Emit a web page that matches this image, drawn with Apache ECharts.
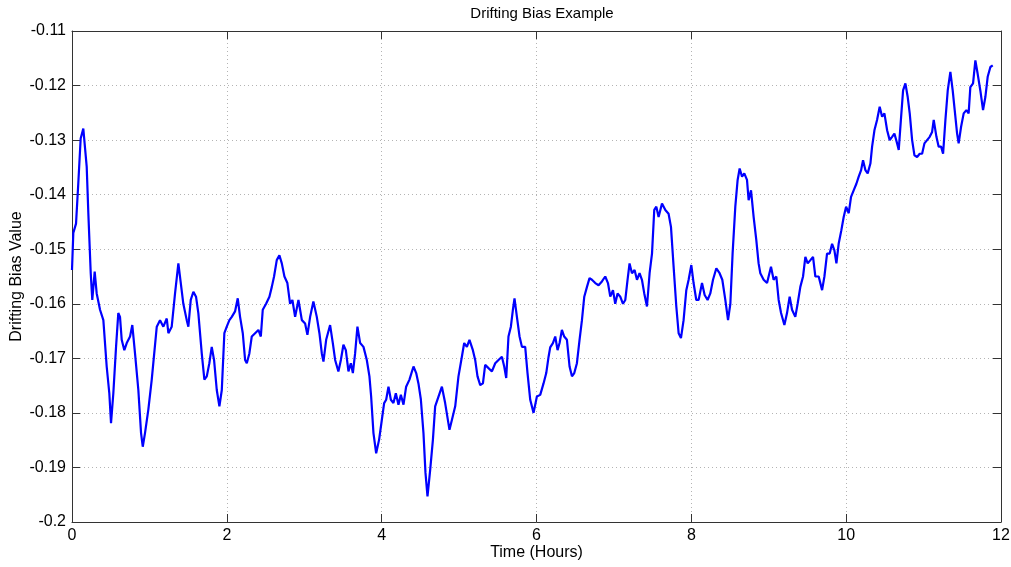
<!DOCTYPE html>
<html>
<head>
<meta charset="utf-8">
<script src="https://cdn.jsdelivr.net/npm/echarts@6/dist/echarts.min.js"></script>
<style>
  html, body { margin: 0; padding: 0; background: #fff; }
  #chart { width: 1011px; height: 567px; }
</style>
</head>
<body>
<div id="chart"></div>
<script>
// time in hours
var times = [
  0, 0.017, 0.052, 0.081, 0.112, 0.146, 0.190, 0.211, 0.242, 0.262,
  0.293, 0.319, 0.362, 0.405, 0.448, 0.482, 0.504, 0.534, 0.569, 0.598,
  0.620, 0.642, 0.676, 0.707, 0.750, 0.779, 0.814, 0.857, 0.892, 0.914,
  0.943, 0.986, 1.030, 1.095, 1.137, 1.180, 1.224, 1.245, 1.288, 1.331,
  1.374, 1.396, 1.438, 1.482, 1.503, 1.534, 1.568, 1.602, 1.632, 1.676,
  1.710, 1.741, 1.774, 1.805, 1.835, 1.870, 1.904, 1.935, 1.968, 1.999,
  2.033, 2.064, 2.106, 2.141, 2.171, 2.206, 2.236, 2.258, 2.291, 2.322,
  2.365, 2.408, 2.439, 2.464, 2.507, 2.550, 2.581, 2.610, 2.645, 2.679,
  2.710, 2.744, 2.782, 2.817, 2.847, 2.882, 2.925, 2.969, 3.011, 3.041,
  3.076, 3.118, 3.162, 3.196, 3.227, 3.248, 3.283, 3.334, 3.369, 3.399,
  3.441, 3.473, 3.506, 3.537, 3.571, 3.602, 3.628, 3.657, 3.687, 3.722,
  3.765, 3.808, 3.842, 3.864, 3.894, 3.929, 3.967, 4.002, 4.032, 4.058,
  4.088, 4.119, 4.152, 4.183, 4.217, 4.248, 4.282, 4.316, 4.359, 4.411,
  4.446, 4.475, 4.506, 4.540, 4.566, 4.592, 4.627, 4.662, 4.691, 4.734,
  4.778, 4.820, 4.876, 4.907, 4.950, 4.992, 5.036, 5.066, 5.101, 5.134,
  5.178, 5.208, 5.238, 5.273, 5.308, 5.337, 5.380, 5.424, 5.467, 5.509,
  5.553, 5.583, 5.609, 5.638, 5.669, 5.695, 5.716, 5.747, 5.781, 5.812,
  5.854, 5.884, 5.919, 5.962, 6.005, 6.048, 6.091, 6.126, 6.156, 6.177,
  6.212, 6.242, 6.272, 6.298, 6.328, 6.358, 6.393, 6.427, 6.458, 6.488,
  6.522, 6.556, 6.587, 6.617, 6.652, 6.685, 6.716, 6.759, 6.802, 6.845,
  6.888, 6.923, 6.953, 6.988, 7.017, 7.047, 7.082, 7.117, 7.147, 7.176,
  7.202, 7.233, 7.267, 7.298, 7.331, 7.362, 7.392, 7.427, 7.461, 7.492,
  7.521, 7.548, 7.577, 7.621, 7.664, 7.706, 7.737, 7.771, 7.806, 7.836,
  7.866, 7.900, 7.935, 7.965, 8.000, 8.029, 8.064, 8.094, 8.138, 8.172,
  8.210, 8.245, 8.280, 8.323, 8.365, 8.400, 8.439, 8.474, 8.504, 8.533,
  8.568, 8.598, 8.624, 8.655, 8.684, 8.719, 8.740, 8.771, 8.805, 8.839,
  8.869, 8.891, 8.934, 8.978, 9.029, 9.063, 9.098, 9.128, 9.159, 9.202,
  9.236, 9.270, 9.301, 9.343, 9.373, 9.408, 9.443, 9.473, 9.503, 9.538,
  9.572, 9.602, 9.645, 9.689, 9.719, 9.753, 9.787, 9.818, 9.848, 9.874,
  9.903, 9.938, 9.968, 9.999, 10.033, 10.063, 10.097, 10.132, 10.162, 10.193,
  10.218, 10.248, 10.278, 10.313, 10.335, 10.365, 10.399, 10.433, 10.464, 10.494,
  10.529, 10.562, 10.593, 10.623, 10.658, 10.679, 10.710, 10.735, 10.765, 10.795,
  10.821, 10.852, 10.882, 10.916, 10.950, 10.981, 11.011, 11.045, 11.079, 11.110,
  11.131, 11.166, 11.195, 11.226, 11.252, 11.282, 11.312, 11.346, 11.376, 11.402,
  11.433, 11.453, 11.484, 11.518, 11.553, 11.582, 11.604, 11.639, 11.669, 11.698,
  11.733, 11.768, 11.798, 11.828, 11.863, 11.893
];

// drifting bias value at each time
var bias = [
  -0.1538, -0.1470, -0.1453, -0.1380, -0.1297, -0.1279, -0.1349, -0.1434, -0.1544, -0.1593,
  -0.1541, -0.1581, -0.1611, -0.1630, -0.1715, -0.1764, -0.1819, -0.1764, -0.1679, -0.1617,
  -0.1624, -0.1666, -0.1685, -0.1672, -0.1660, -0.1639, -0.1691, -0.1758, -0.1837, -0.1862,
  -0.1837, -0.1794, -0.1739, -0.1642, -0.1630, -0.1642, -0.1627, -0.1654, -0.1642, -0.1581,
  -0.1526, -0.1523, -0.1600, -0.1630, -0.1642, -0.1593, -0.1578, -0.1587, -0.1617, -0.1691,
  -0.1739, -0.1733, -0.1709, -0.1679, -0.1703, -0.1758, -0.1788, -0.1758, -0.1654, -0.1642,
  -0.1630, -0.1624, -0.1614, -0.1590, -0.1624, -0.1654, -0.1703, -0.1709, -0.1691, -0.1660,
  -0.1654, -0.1648, -0.1660, -0.1611, -0.1600, -0.1587, -0.1569, -0.1550, -0.1520, -0.1511,
  -0.1526, -0.1550, -0.1562, -0.1600, -0.1593, -0.1624, -0.1593, -0.1630, -0.1636, -0.1657,
  -0.1624, -0.1596, -0.1624, -0.1654, -0.1691, -0.1706, -0.1666, -0.1639, -0.1672, -0.1703,
  -0.1724, -0.1703, -0.1675, -0.1685, -0.1724, -0.1709, -0.1727, -0.1691, -0.1642, -0.1672,
  -0.1679, -0.1703, -0.1733, -0.1770, -0.1837, -0.1874, -0.1849, -0.1813, -0.1782, -0.1776,
  -0.1752, -0.1776, -0.1782, -0.1764, -0.1785, -0.1767, -0.1785, -0.1752, -0.1739, -0.1715,
  -0.1727, -0.1746, -0.1775, -0.1837, -0.1910, -0.1953, -0.1904, -0.1849, -0.1788, -0.1770,
  -0.1752, -0.1782, -0.1831, -0.1813, -0.1788, -0.1733, -0.1697, -0.1672, -0.1679, -0.1666,
  -0.1685, -0.1703, -0.1733, -0.1749, -0.1746, -0.1712, -0.1718, -0.1724, -0.1709, -0.1703,
  -0.1697, -0.1715, -0.1736, -0.1660, -0.1642, -0.1611, -0.1590, -0.1624, -0.1660, -0.1679,
  -0.1679, -0.1727, -0.1776, -0.1800, -0.1770, -0.1767, -0.1746, -0.1727, -0.1697, -0.1680,
  -0.1672, -0.1660, -0.1685, -0.1672, -0.1648, -0.1660, -0.1666, -0.1715, -0.1733, -0.1727,
  -0.1709, -0.1666, -0.1630, -0.1587, -0.1569, -0.1553, -0.1556, -0.1562, -0.1566, -0.1559,
  -0.1550, -0.1562, -0.1587, -0.1575, -0.1600, -0.1581, -0.1587, -0.1600, -0.1593, -0.1556,
  -0.1526, -0.1544, -0.1538, -0.1556, -0.1544, -0.1556, -0.1581, -0.1605, -0.1544, -0.1508,
  -0.1428, -0.1422, -0.1441, -0.1416, -0.1428, -0.1435, -0.1459, -0.1532, -0.1605, -0.1654,
  -0.1663, -0.1630, -0.1575, -0.1556, -0.1529, -0.1562, -0.1593, -0.1593, -0.1562, -0.1584,
  -0.1593, -0.1581, -0.1556, -0.1535, -0.1544, -0.1556, -0.1593, -0.1630, -0.1600, -0.1508,
  -0.1422, -0.1373, -0.1352, -0.1367, -0.1361, -0.1373, -0.1410, -0.1392, -0.1441, -0.1483,
  -0.1526, -0.1544, -0.1556, -0.1562, -0.1532, -0.1556, -0.1550, -0.1593, -0.1617, -0.1639,
  -0.1617, -0.1587, -0.1611, -0.1624, -0.1600, -0.1569, -0.1550, -0.1514, -0.1526, -0.1520,
  -0.1514, -0.1550, -0.1550, -0.1575, -0.1550, -0.1508, -0.1508, -0.1490, -0.1502, -0.1526,
  -0.1490, -0.1465, -0.1441, -0.1422, -0.1434, -0.1404, -0.1392, -0.1380, -0.1367, -0.1355,
  -0.1337, -0.1355, -0.1361, -0.1343, -0.1312, -0.1282, -0.1263, -0.1239, -0.1257, -0.1251,
  -0.1282, -0.1300, -0.1294, -0.1288, -0.1306, -0.1318, -0.1257, -0.1209, -0.1196, -0.1221,
  -0.1251, -0.1300, -0.1328, -0.1331, -0.1325, -0.1325, -0.1306, -0.1300, -0.1294, -0.1285,
  -0.1263, -0.1294, -0.1312, -0.1312, -0.1325, -0.1263, -0.1209, -0.1175, -0.1209, -0.1245,
  -0.1288, -0.1306, -0.1276, -0.1251, -0.1245, -0.1251, -0.1203, -0.1196, -0.1154, -0.1178,
  -0.1209, -0.1245, -0.1221, -0.1184, -0.1166, -0.1163
];

var xMin = 0, xMax = 12, xStep = 2;
var yMin = -0.2, yMax = -0.11, yStep = 0.01;

var font = 'Liberation Sans, Arial, Helvetica, sans-serif';
var axisColor = '#333';

function boxAxis(extra){
    // plain frame axis: line + inward ticks, no labels / grid
    var a = {
        type: 'value',
        axisLine: { show: true, onZero: false, lineStyle: { color: axisColor, width: 1 } },
        axisTick: { show: true, inside: true, length: 8, lineStyle: { color: axisColor } },
        axisLabel: { show: false },
        splitLine: { show: false }
    };
    for (var k in extra) a[k] = extra[k];
    return a;
}

var chart = echarts.init(document.getElementById('chart'), null, { renderer: 'canvas' });

var seriesData = times.map(function(t, i){ return [t, bias[i]]; });

chart.setOption({
    animation: false,
    backgroundColor: '#fff',
    title: {
        text: 'Drifting Bias Example',
        left: 537,
        textAlign: 'center',
        top: 1,
        textStyle: { fontFamily: font, fontSize: 15, fontWeight: 'normal', color: '#000' }
    },
    grid: { left: 72, right: 10, top: 31, bottom: 45, containLabel: false, outerBoundsMode: 'none' },
    xAxis: [
        {
            type: 'value',
            min: xMin, max: xMax, interval: xStep,
            name: 'Time (Hours)',
            nameLocation: 'middle',
            nameGap: 23,
            nameMoveOverlap: false,
            nameTextStyle: { fontFamily: font, fontSize: 16, color: '#000' },
            axisLine: { show: true, onZero: false, lineStyle: { color: axisColor, width: 1 } },
            axisTick: { show: true, inside: true, length: 8, lineStyle: { color: axisColor } },
            axisLabel: { fontFamily: font, fontSize: 16, color: '#000', margin: 6 },
            splitLine: { show: true, lineStyle: { color: '#b4b4b4', type: [1, 3], width: 1 } }
        },
        boxAxis({ position: 'top', min: xMin, max: xMax, interval: xStep })
    ],
    yAxis: [
        {
            type: 'value',
            min: yMin, max: yMax, interval: yStep,
            name: 'Drifting Bias Value',
            nameLocation: 'middle',
            nameGap: 47,
            nameMoveOverlap: false,
            nameTextStyle: { fontFamily: font, fontSize: 16, color: '#000' },
            axisLine: { show: true, onZero: false, lineStyle: { color: axisColor, width: 1 } },
            axisTick: { show: true, inside: true, length: 8, lineStyle: { color: axisColor } },
            axisLabel: {
                fontFamily: font, fontSize: 16, color: '#000', margin: 6,
                formatter: function(v){ return String(parseFloat(v.toFixed(2))); }
            },
            splitLine: { show: true, lineStyle: { color: '#b4b4b4', type: [1, 3], width: 1 } }
        },
        boxAxis({ position: 'right', min: yMin, max: yMax, interval: yStep })
    ],
    series: [{
        type: 'line',
        data: seriesData,
        showSymbol: false,
        symbol: 'none',
        lineStyle: { color: '#0000ff', width: 2.2 },
        silent: true
    }]
});
</script>
</body>
</html>
